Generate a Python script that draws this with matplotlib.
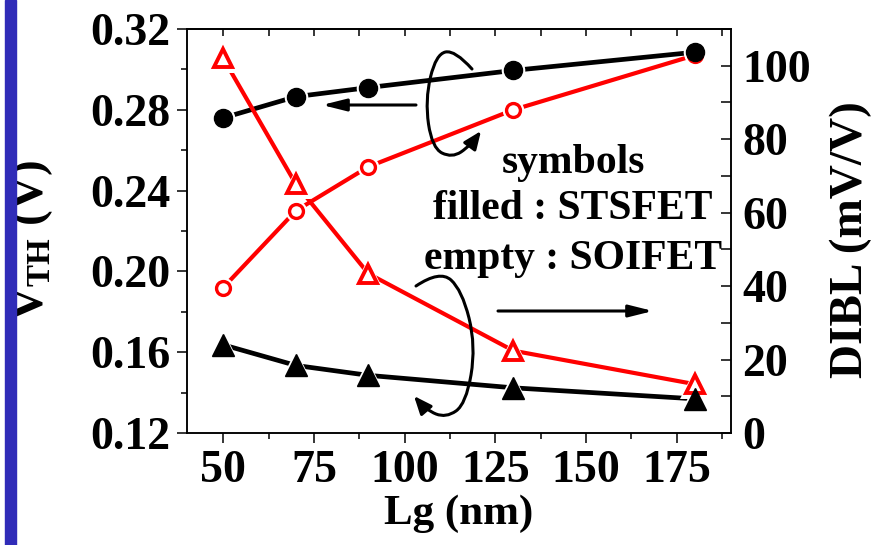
import matplotlib
matplotlib.use("Agg")
import matplotlib.pyplot as plt
from matplotlib.patches import FancyArrowPatch, Rectangle
from matplotlib.path import Path
from matplotlib.ticker import MultipleLocator, FormatStrFormatter

# ---- data ----------------------------------------------------------------
lg = [50, 70, 90, 130, 180]                       # gate length, nm
vth_sts = [0.276, 0.2865, 0.291, 0.2995, 0.3085]  # V, filled circles
vth_soi = [0.192, 0.230, 0.2518, 0.280, 0.307]    # V, open circles
dibl_soi = [102, 67.8, 43.4, 22.4, 13.3]          # mV/V, open triangles
dibl_sts = [24, 18.4, 15.7, 12.3, 9.3]            # mV/V, filled triangles

x_ticks = [50, 75, 100, 125, 150, 175]
vth_ticks = [0.12, 0.16, 0.20, 0.24, 0.28, 0.32]
dibl_ticks = [0, 20, 40, 60, 80, 100]

plt.rcParams["font.family"] = ["Liberation Serif", "DejaVu Serif"]
plt.rcParams["font.weight"] = "bold"
plt.rcParams["axes.labelweight"] = "bold"
plt.rcParams["mathtext.fontset"] = "custom"
plt.rcParams["mathtext.rm"] = "Liberation Serif:bold"
plt.rcParams["mathtext.bf"] = "Liberation Serif:bold"
plt.rcParams["axes.linewidth"] = 1.1

W, H = 876, 545
FS = 33
RED = "#ff0000"

fig = plt.figure(figsize=(W / 100, H / 100), dpi=100)
ax = fig.add_axes([187 / W, 1 - 433 / H, (731 - 187) / W, (433 - 29) / H])
ax2 = ax.twinx()


def fpx(x, y):
    """pixel (top-left origin) -> figure fraction"""
    return (x / W, 1 - y / H)


# blue strip at the left edge
fig.patches.append(Rectangle((5 / W, 0), 10.5 / W, 1, transform=fig.transFigure,
                             color="#302cb8", zorder=10))

# ---- series --------------------------------------------------------------
ax.plot(lg, vth_sts, color="black", lw=3.4, zorder=2)
ax.plot(lg, vth_soi, color=RED, lw=3.0, zorder=2)
ax2.plot(lg, dibl_soi, color=RED, lw=3.0, zorder=2)
ax2.plot(lg, dibl_sts, color="black", lw=3.4, zorder=2)

# white halos to leave a gap between lines and symbols
ax.plot(lg, vth_soi, "o", ms=15.5, color="white", mew=0, zorder=3)
ax.plot(lg, vth_sts, "o", ms=17, color="white", mew=0, zorder=3)
ax2.plot(lg, dibl_soi, "^", ms=21, color="white", mew=0, zorder=3)
ax2.plot(lg, dibl_sts, "^", ms=21, color="white", mew=0, zorder=3)

ax.plot(lg, vth_soi, "o", ms=10, mfc="white", mec=RED, mew=2.4, zorder=4)
ax.plot(lg, vth_sts, "o", ms=13, color="black", zorder=5)
ax2.plot(lg, dibl_soi, "^", ms=13.5, mfc="white", mec=RED, mew=2.8, zorder=4)
ax2.plot(lg, dibl_sts, "^", ms=15.5, color="black", mew=1, zorder=5)

# ---- axes ----------------------------------------------------------------
ax.set_xlim(40, 190)
ax.set_ylim(0.12, 0.32)
ax2.set_ylim(0, 110)

ax.set_xticks(x_ticks)
ax.xaxis.set_minor_locator(MultipleLocator(12.5))
ax.set_yticks(vth_ticks)
ax.yaxis.set_minor_locator(MultipleLocator(0.02))
ax.yaxis.set_major_formatter(FormatStrFormatter("%.2f"))
ax2.set_yticks(dibl_ticks)
ax2.yaxis.set_minor_locator(MultipleLocator(10))

ax.tick_params(axis="both", which="major", direction="out", length=7, width=1.1,
               labelsize=FS, pad=5)
ax.tick_params(axis="both", which="minor", direction="out", length=4, width=1.1)
ax2.tick_params(axis="y", which="both", direction="in", length=7, width=1.1,
                labelsize=FS, pad=8)

top = ax.secondary_xaxis("top")
top.set_xticks(x_ticks)
top.xaxis.set_minor_locator(MultipleLocator(12.5))
top.tick_params(which="both", direction="in", length=5, width=1.1, labeltop=False)
top.set_xticklabels([])

ax.set_xlabel("Lg (nm)", fontsize=31, va="center")
ax.xaxis.set_label_coords(0.5, (433 - 514) / 404)
ax.set_ylabel(r"V$_{\rm TH}$ (V)", fontsize=34, va="center")
ax.yaxis.set_label_coords((32 - 187) / 544, (433 - 241) / 404)
ax2.set_ylabel("DIBL (mV/V)", fontsize=34, va="center")
ax2.yaxis.set_label_coords((851 - 187) / 544, (433 - 240) / 404)

# ---- annotations ---------------------------------------------------------
for line, y in (("symbols", 163), ("filled : STSFET", 209), ("empty : SOIFET", 259)):
    fig.text(573 / W, 1 - y / H, line, fontsize=30, ha="center", va="center")


def smooth_path(pts):
    pts = [fpx(*p) for p in pts]
    verts = [pts[0]]
    codes = [Path.MOVETO]
    for i in range(1, len(pts) - 1):
        mid = ((pts[i][0] + pts[i + 1][0]) / 2, (pts[i][1] + pts[i + 1][1]) / 2)
        if i == len(pts) - 2:
            mid = pts[-1]
        verts += [pts[i], mid]
        codes += [Path.CURVE3, Path.CURVE3]
    return Path(verts, codes)


upper = [(472, 69), (455, 50), (436, 54), (425, 100), (432, 148), (452, 158),
         (470, 146), (481, 131)]
lower = [(416, 286), (440, 270), (462, 290), (476, 346), (466, 404), (446, 418),
         (426, 410), (414, 396)]
for pts in (upper, lower):
    fig.patches.append(FancyArrowPatch(path=smooth_path(pts), transform=fig.transFigure,
                                       arrowstyle="-|>,head_length=0.6,head_width=0.25",
                                       mutation_scale=18, lw=2.2, color="black",
                                       shrinkA=0, shrinkB=0, zorder=6))

for a, b in (((416, 105), (322, 105)), ((498, 311), (653, 311))):
    fig.patches.append(FancyArrowPatch(fpx(*a), fpx(*b), transform=fig.transFigure,
                                       arrowstyle="-|>,head_length=0.8,head_width=0.2",
                                       mutation_scale=18, lw=2.2, color="black",
                                       shrinkA=0, shrinkB=0, zorder=6))

fig.savefig("out.png", dpi=100)
